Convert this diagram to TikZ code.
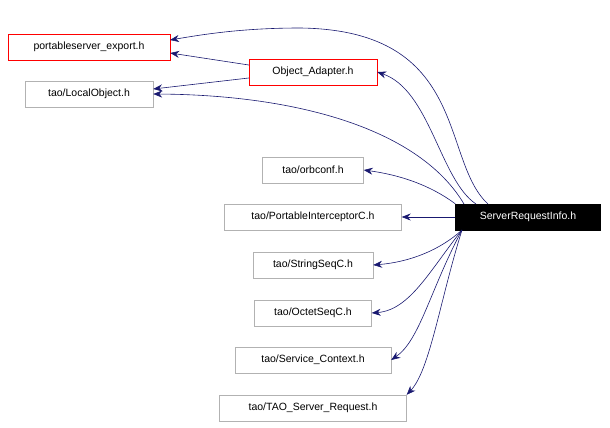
\documentclass[tikz,border=0pt]{standalone}
\usepackage{fontspec}
\setmainfont{Liberation Sans}
\usetikzlibrary{arrows.meta}
\begin{document}
\begin{tikzpicture}[x=1pt,y=-1pt,
  box/.style={draw=gray!60,fill=white,minimum height=26,inner xsep=6,font=\fontsize{10.5}{12}\selectfont,anchor=center},
  redbox/.style={box,draw=red},
  e/.style={draw=midnightblue,-{Stealth[length=9,width=7]},line width=0.6}]
\definecolor{midnightblue}{HTML}{191970}
\useasboundingbox (0,0) rectangle (610,428);
\node[redbox,minimum width=162] (pe) at (89,47) {portableserver\_export.h};
\node[box,draw=red,minimum width=128] (oa) at (313,72) {Object\_Adapter.h};
\node[box,minimum width=128] (lo) at (89,94) {tao/LocalObject.h};
\node[box,minimum width=101] (oc) at (313,170) {tao/orbconf.h};
\node[box,minimum width=177] (pi) at (313,217) {tao/PortableInterceptorC.h};
\node[box,fill=black,text=white,draw=black,minimum width=145] (sri) at (528,217) {ServerRequestInfo.h};
\node[box,minimum width=120] (ss) at (313,265) {tao/StringSeqC.h};
\node[box,minimum width=117] (os) at (313,313) {tao/OctetSeqC.h};
\node[box,minimum width=156] (sc) at (313,360) {tao/Service\_Context.h};
\node[box,minimum width=187] (tr) at (313,408) {tao/TAO\_Server\_Request.h};
\coordinate (s1) at (488,204);
\coordinate (s2) at (476,204);
\coordinate (s3) at (464,204);
\coordinate (b1) at (462,230);
\coordinate (peE) at (170,40);
\draw[e] (s1) .. controls (440,160) and (470,30) .. (300,28) .. controls (240,28) and (200,35) .. (peE);
\draw[e] (s2) .. controls (440,180) and (430,90) .. (oa.east);
\draw[e] (s3) .. controls (420,130) and (300,95) .. (lo.east);
\draw[e] (oa.west|-0,65) -- (pe.east|-0,53);
\draw[e] (oa.west|-0,78) -- (lo.east|-0,89);
\draw[e] (sri.north west) .. controls (430,185) and (400,175) .. (oc.east);
\draw[e] (sri.west) -- (pi.east);
\draw[e] (b1) .. controls (440,250) and (410,262) .. (ss.east);
\draw[e] (b1) .. controls (430,270) and (410,310) .. (os.east);
\draw[e] (b1) .. controls (430,290) and (420,340) .. (sc.east);
\draw[e] (b1) .. controls (440,300) and (430,370) .. (tr.north east);
\end{tikzpicture}
\end{document}
